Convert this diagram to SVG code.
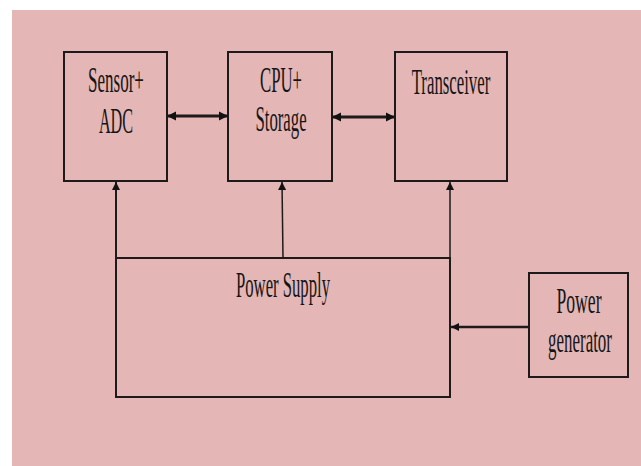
<svg xmlns="http://www.w3.org/2000/svg" width="641" height="466" viewBox="0 0 641 466">
  <defs>
    <style>
      .box { fill: none; stroke: #1e1a1a; stroke-width: 2; }
      .lbl { font-family: "Liberation Serif", "Times New Roman", serif; font-size: 36px; fill: #151515; text-anchor: middle; }
      .conn { stroke: #1e1a1a; fill: none; }
    </style>
    <marker id="ah" viewBox="0 0 10 10" refX="10" refY="5" markerUnits="userSpaceOnUse" markerWidth="9" markerHeight="10" orient="auto-start-reverse">
      <path d="M0,0 L10,5 L0,10 z" fill="#111"/>
    </marker>
    <marker id="ahs" viewBox="0 0 10 10" refX="10" refY="5" markerUnits="userSpaceOnUse" markerWidth="9" markerHeight="8" orient="auto-start-reverse">
      <path d="M0,0 L10,5 L0,10 z" fill="#111"/>
    </marker>
  </defs>
  <rect x="0" y="0" width="641" height="466" fill="#ffffff"/>
  <rect x="12" y="10" width="629" height="456" fill="#e4b6b6"/>

  <g id="sensor-adc">
    <rect class="box" x="64" y="52" width="103" height="129"/>
    <text class="lbl" transform="translate(116,92) scale(0.473,1)">Sensor+</text>
    <text class="lbl" transform="translate(116,133) scale(0.45,1)">ADC</text>
  </g>
  <g id="cpu-storage">
    <rect class="box" x="228" y="52" width="104" height="129"/>
    <text class="lbl" transform="translate(281,92) scale(0.465,1)">CPU+</text>
    <text class="lbl" transform="translate(281,131) scale(0.465,1)">Storage</text>
  </g>
  <g id="transceiver">
    <rect class="box" x="395" y="52" width="112" height="129"/>
    <text class="lbl" transform="translate(451,94) scale(0.466,1)">Transceiver</text>
  </g>
  <g id="power-supply">
    <rect class="box" x="116" y="258" width="334" height="139"/>
    <text class="lbl" transform="translate(283,297) scale(0.463,1)">Power Supply</text>
  </g>
  <g id="power-generator">
    <rect class="box" x="529" y="273" width="99" height="104"/>
    <text class="lbl" transform="translate(579,313) scale(0.49,1)">Power</text>
    <text class="lbl" transform="translate(580,352) scale(0.47,1)">generator</text>
  </g>

  <g id="connectors">
    <line class="conn" x1="167" y1="116" x2="228" y2="116" stroke-width="3" marker-start="url(#ah)" marker-end="url(#ah)"/>
    <line class="conn" x1="332" y1="117" x2="395" y2="117" stroke-width="3" marker-start="url(#ah)" marker-end="url(#ah)"/>
    <line class="conn" x1="116" y1="258" x2="116" y2="182" stroke-width="2" marker-end="url(#ahs)"/>
    <line class="conn" x1="283" y1="258" x2="282" y2="182" stroke-width="1.5" marker-end="url(#ahs)"/>
    <line class="conn" x1="450" y1="258" x2="450" y2="182" stroke-width="1.5" marker-end="url(#ahs)"/>
    <line class="conn" x1="529" y1="327" x2="451" y2="327" stroke-width="2.5" marker-end="url(#ahs)"/>
  </g>
</svg>
